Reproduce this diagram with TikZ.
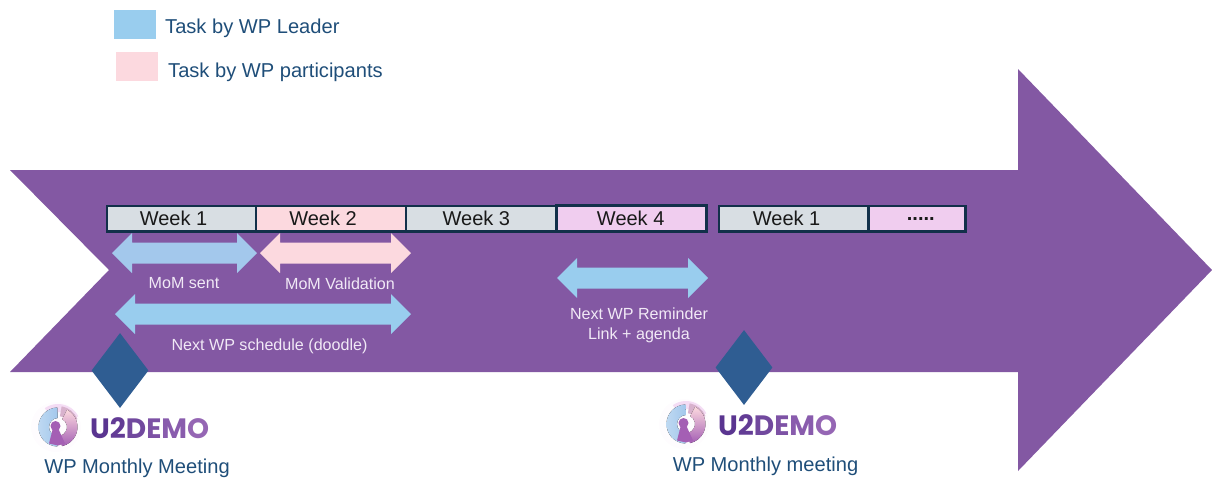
\documentclass[tikz,border=0pt]{standalone}
\usepackage{fontspec}
\setmainfont{Liberation Sans}
\newfontfamily\logofont{Poppins}
\usetikzlibrary{shapes.geometric}
\definecolor{purp}{HTML}{8358A3}
\definecolor{lblue}{HTML}{99CDEE}
\definecolor{mblue}{HTML}{A3C8EC}
\definecolor{lpink}{HTML}{FCD9DF}
\definecolor{lgrey}{HTML}{D8DEE3}
\definecolor{lviolet}{HTML}{F0CDEF}
\definecolor{dnavy}{HTML}{12304A}
\definecolor{dia}{HTML}{2F5D92}
\definecolor{captxt}{HTML}{1F4E79}
\definecolor{whitetxt}{HTML}{F1E9F6}
\definecolor{logoA}{HTML}{5A3590}
\definecolor{logoB}{HTML}{9566B4}
\definecolor{keyhole}{HTML}{A45FB4}
\tikzset{
  weekbox/.style={draw=dnavy,line width=2.6pt,minimum height=25.7pt,inner sep=0pt,font=\fontsize{20}{22}\selectfont,text=black!90,anchor=north west},
  lab/.style={text=whitetxt,font=\fontsize{16.1}{20}\selectfont,align=center,inner sep=0pt},
  captext/.style={text=captxt,font=\fontsize{20.1}{22}\selectfont,inner sep=0pt},
  legendbox/.style={minimum width=42pt,minimum height=29pt,inner sep=0pt,anchor=north west},
  milestone/.style={diamond,fill=dia,minimum width=57pt,minimum height=75pt,inner sep=0pt,aspect=1},
  logotext/.style={inner sep=0pt,anchor=west,font=\logofont\bfseries\fontsize{28}{30}\selectfont},
}
\newcommand{\dblarrow}[5]{%
  \fill[#5] (#2,#4) -- (#2+20,#4-20) -- (#2+20,#4-10.5) -- (#3-20,#4-10.5) -- (#3-20,#4-20) -- (#3,#4)
     -- (#3-20,#4+20) -- (#3-20,#4+10.5) -- (#2+20,#4+10.5) -- (#2+20,#4+20) -- cycle;
}
\newcommand{\sector}[5]{%
  \fill[#5] (#1:#3) -- (#1:#4) arc[start angle=#1,end angle=#2,radius=#4] -- (#2:#3) arc[start angle=#2,end angle=#1,radius=#3] -- cycle;
}
\newcommand{\logomark}[2]{%
  \begin{scope}[shift={(#1,#2)}]
    \fill[lviolet!5!white] (-2,0) circle (25);
    \sector{-125}{-28}{15}{23}{fill=lviolet!70!white}
    \sector{-80}{-22}{11}{21}{fill=purp!30!lpink}
    \sector{92}{268}{9}{19.5}{left color=mblue!70!white,right color=mblue}
    \sector{-62}{78}{9}{19.5}{top color=lpink,bottom color=keyhole}
    \fill[keyhole] (-2.5,-1) circle (5);
    \fill[keyhole] (-5,1) -- (0,1) -- (7,16.5) -- (0,18.5) -- (-9,16.5) -- cycle;
  \end{scope}}
\newcommand{\logoword}{\textcolor{logoA}{U}\textcolor{logoA!85!logoB}{2}\textcolor{logoA!60!logoB}{D}\textcolor{logoA!40!logoB}{E}\textcolor{logoA!20!logoB}{M}\textcolor{logoB}{O}}
\begin{document}
\begin{tikzpicture}[x=1pt,y=-1pt]
\useasboundingbox (0,0) rectangle (1212,480);
\fill[purp] (10,170) -- (1018,170) -- (1018,69) -- (1212,270) -- (1018,471) -- (1018,372) -- (10,372) -- (109,270) -- cycle;
% legend
\node[legendbox,fill=lblue] (lg1) at (114,10) {};
\node[legendbox,fill=lpink] (lg2) at (116,52) {};
\node[captext,anchor=west] (lt1) at (165,28) {Task by WP Leader};
\node[captext,anchor=west] (lt2) at (168,72) {Task by WP participants};
% weeks
\node[weekbox,fill=lgrey,minimum width=149pt] (w1) at (105.7,204.5) {Week 1\hspace{16pt}\null};
\node[weekbox,fill=lpink,minimum width=150pt] (w2) at (254.7,204.5) {Week 2\hspace{16pt}\null};
\node[weekbox,fill=lgrey,minimum width=150.7pt] (w3) at (404.7,204.5) {Week 3\hspace{10pt}\null};
\node[weekbox,fill=lviolet,minimum width=150pt] (w4) at (555.4,204.3) {Week 4\hspace{2pt}\null};
\node[weekbox,fill=lgrey,minimum width=149.3pt] (w5) at (717.7,204.5) {Week 1\hspace{14pt}\null};
\node[weekbox,fill=lviolet,minimum width=97pt] (w6) at (867,204.5) {\hspace{8pt}\textbf{.....}};
% arrows
\dblarrow{a1}{112}{257}{253}{mblue}
\dblarrow{a2}{260}{411}{253}{lpink}
\dblarrow{a3}{115}{411}{314}{lblue}
\dblarrow{a4}{557}{708}{278}{lblue}
% labels
\node[lab] (l1) at (184,283) {MoM sent};
\node[lab] (l2) at (340,284) {MoM Validation};
\node[lab] (l3) at (269.5,346) {Next WP schedule (doodle)};
\node[lab] (l4) at (639,325) {Next WP Reminder\\Link + agenda};
% milestones
\node[milestone] (m1) at (120,370.5) {};
\node[milestone] (m2) at (744,367.5) {};
% logos
\logomark{58}{427}
\logomark{686}{424}
\node[logotext] (t1) at (90,428) {\logoword};
\node[logotext] (t2) at (718,425) {\logoword};
% captions
\node[captext] (c1) at (137,468) {WP Monthly Meeting};
\node[captext] (c2) at (765.5,466) {WP Monthly meeting};
\end{tikzpicture}
\end{document}
